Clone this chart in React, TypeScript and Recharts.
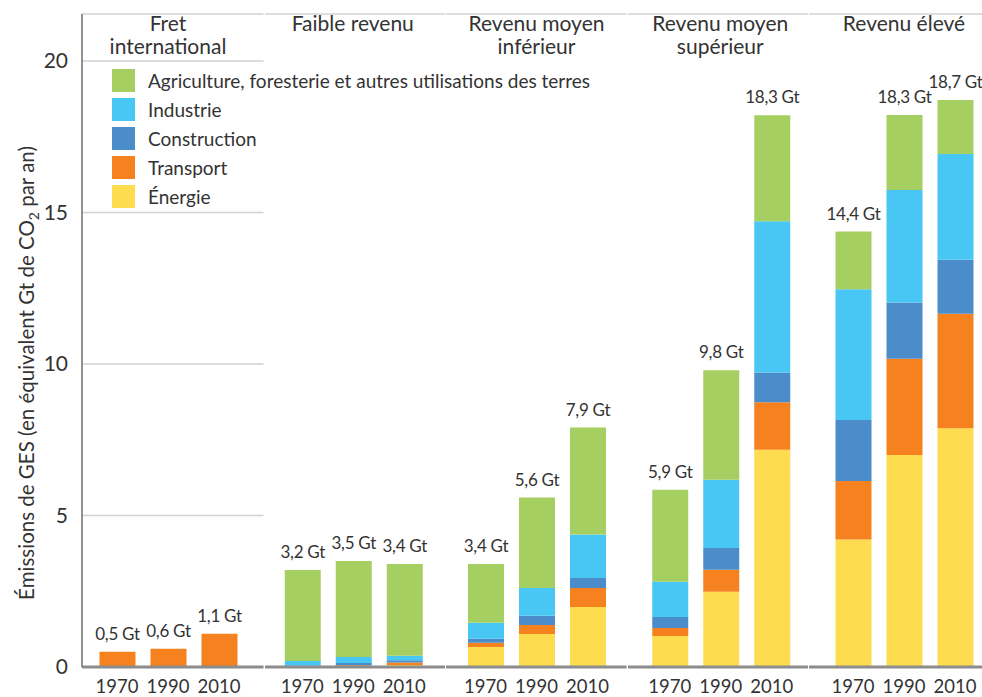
import { BarChart, Bar, XAxis, YAxis, CartesianGrid, LabelList, Legend } from "recharts";

// groupes de revenu (titres en haut) et années
const groups = [
    "Fret\ninternational",
    "Faible revenu",
    "Revenu moyen\ninférieur",
    "Revenu moyen\nsupérieur",
    "Revenu élevé",
];
const years = ["1970", "1990", "2010"];

// Gt éq. CO2 par secteur, [groupe][année]
const energie = [[0, 0, 0], [0.01, 0.03, 0.07], [0.66, 1.09, 1.98], [1.02, 2.48, 7.17], [4.21, 7.0, 7.88]];
const transport = [[0.5, 0.6, 1.1], [0.01, 0.03, 0.08], [0.14, 0.3, 0.63], [0.27, 0.73, 1.57], [1.93, 3.17, 3.78]];
const construction = [[0, 0, 0], [0.02, 0.07, 0.07], [0.13, 0.3, 0.33], [0.36, 0.72, 0.98], [2.01, 1.86, 1.78]];
const industrie = [[0, 0, 0], [0.16, 0.2, 0.15], [0.53, 0.92, 1.43], [1.16, 2.25, 4.99], [4.32, 3.71, 3.49]];
const agriculture = [[0, 0, 0], [3.0, 3.17, 3.03], [1.94, 2.98, 3.53], [3.04, 3.61, 3.5], [1.9, 2.48, 1.78]];
const totals = [[0.5, 0.6, 1.1], [3.2, 3.5, 3.4], [3.4, 5.6, 7.9], [5.9, 9.8, 18.3], [14.4, 18.3, 18.7]];

const yTicks = [0, 5, 10, 15, 20];

const sectorKeys = ["energie", "transport", "construction", "industrie", "agriculture"];
const sectorValues: Record<string, number[][]> = { energie, transport, construction, industrie, agriculture };
const sectorNames: Record<string, string> = {
    energie: "Énergie",
    transport: "Transport",
    construction: "Construction",
    industrie: "Industrie",
    agriculture: "Agriculture, foresterie et autres utilisations des terres",
};
const sectorColors: Record<string, string> = {
    energie: "#fddc4f",
    transport: "#f5821f",
    construction: "#4a8dca",
    industrie: "#49c7f4",
    agriculture: "#a5cf61",
};

const FONT = "Lato";
const TEXT = "#333";
const AXIS_W = 82;
const PANEL_W = 181.5;
const CHART_H = 697;

function groupData(g: number) {
    return years.map((year, j) => {
        const row: Record<string, string | number | undefined> = { year };
        sectorKeys.forEach((k) => (row[k] = sectorValues[k][g][j]));
        // the total goes on the highest non-empty segment of the stack
        const topKey = [...sectorKeys].reverse().find((k) => sectorValues[k][g][j] > 0);
        if (topKey) row[`lbl_${topKey}`] = totals[g][j];
        return row;
    });
}

const formatTotal = (v: number) => `${String(v).replace(".", ",")} Gt`;

function TotalLabel(props: any) {
    const { value } = props;
    if (value === undefined || value === null || value === "") return null;
    const vb = props.viewBox ?? props;
    return (
        <text
            x={vb.x + vb.width / 2}
            y={vb.y - 12}
            textAnchor="middle"
            fill={TEXT}
            fontSize={17}
            fontFamily={FONT}
            letterSpacing={-0.3}
        >
            {formatTotal(value)}
        </text>
    );
}

function YTitle() {
    return (
        <text transform="translate(34, 373) rotate(-90)" textAnchor="middle" fill={TEXT} fontSize={20.5} fontFamily={FONT}>
            Émissions de GES (en équivalent Gt de CO
            <tspan fontSize={14} dy={5}>2</tspan>
            <tspan dy={-5}> par an)</tspan>
        </text>
    );
}

function LegendBox() {
    return (
        <div style={{ fontFamily: FONT, fontSize: 19, color: TEXT }}>
            {[...sectorKeys].reverse().map((k) => (
                <div key={k} style={{ display: "flex", alignItems: "center", height: 29, whiteSpace: "nowrap" }}>
                    <span style={{ width: 23, height: 23, background: sectorColors[k], marginRight: 13, flex: "none" }} />
                    {sectorNames[k]}
                </div>
            ))}
        </div>
    );
}

function Panel({ g }: { g: number }) {
    const first = g === 0;
    const plotLeft = first ? AXIS_W : 1;
    const width = first ? AXIS_W + PANEL_W : PANEL_W;
    const plotW = width - plotLeft;
    const padLeft = 9.5 + 2.25 * g;
    const padRight = plotW - 153 - padLeft;
    const center = plotLeft + padLeft + 76.5;

    return (
        <div style={{ position: "relative", width, height: CHART_H, flex: "none" }}>
            <BarChart
                width={width}
                height={CHART_H}
                data={groupData(g)}
                margin={{ top: 14, right: 0, bottom: 0, left: first ? 0 : 1 }}
                barSize={36}
            >
                <CartesianGrid vertical={false} stroke="#d2d2d2" strokeWidth={1.5} />
                <XAxis
                    dataKey="year"
                    interval={0}
                    height={30}
                    tickLine={false}
                    tickSize={0}
                    tickMargin={13}
                    padding={{ left: padLeft, right: padRight }}
                    axisLine={{ stroke: "#8c8c8c", strokeWidth: 3 }}
                    tick={{ fill: TEXT, fontSize: 18.5, fontFamily: FONT }}
                />
                <YAxis
                    domain={[0, 21.55]}
                    ticks={yTicks}
                    allowDataOverflow
                    width={first ? AXIS_W : 0}
                    tickLine={false}
                    tickSize={0}
                    tickMargin={14}
                    axisLine={{ stroke: first ? "#6e6e6e" : "#b0b0b0", strokeWidth: 1.5 }}
                    tick={first ? { fill: TEXT, fontSize: 21, fontFamily: FONT } : false}
                    label={first ? <YTitle /> : undefined}
                />
                {first && (
                    <Legend
                        layout="vertical"
                        align="center"
                        verticalAlign="middle"
                        wrapperStyle={{ left: 112, top: 66, width: 620, height: 150 }}
                        content={<LegendBox />}
                    />
                )}
                {sectorKeys.map((k) => (
                    <Bar
                        key={k}
                        dataKey={k}
                        name={sectorNames[k]}
                        stackId="a"
                        fill={sectorColors[k]}
                        isAnimationActive={false}
                    >
                        <LabelList dataKey={`lbl_${k}`} content={TotalLabel} />
                    </Bar>
                ))}
            </BarChart>
            <div
                style={{
                    position: "absolute",
                    left: center,
                    top: 10.5,
                    width: PANEL_W,
                    transform: "translateX(-50%)",
                    textAlign: "center",
                    whiteSpace: "pre-line",
                    fontFamily: FONT,
                    fontSize: 21,
                    lineHeight: "23px",
                    color: TEXT,
                }}
            >
                {groups[g]}
            </div>
        </div>
    );
}

export default function App() {
    return (
        <div
            style={{
                position: "absolute",
                left: 0,
                top: 0,
                width: 982,
                height: 697,
                overflow: "hidden",
                background: "#fff",
                display: "flex",
            }}
        >
            {groups.map((_, g) => (
                <Panel key={g} g={g} />
            ))}
        </div>
    );
}
